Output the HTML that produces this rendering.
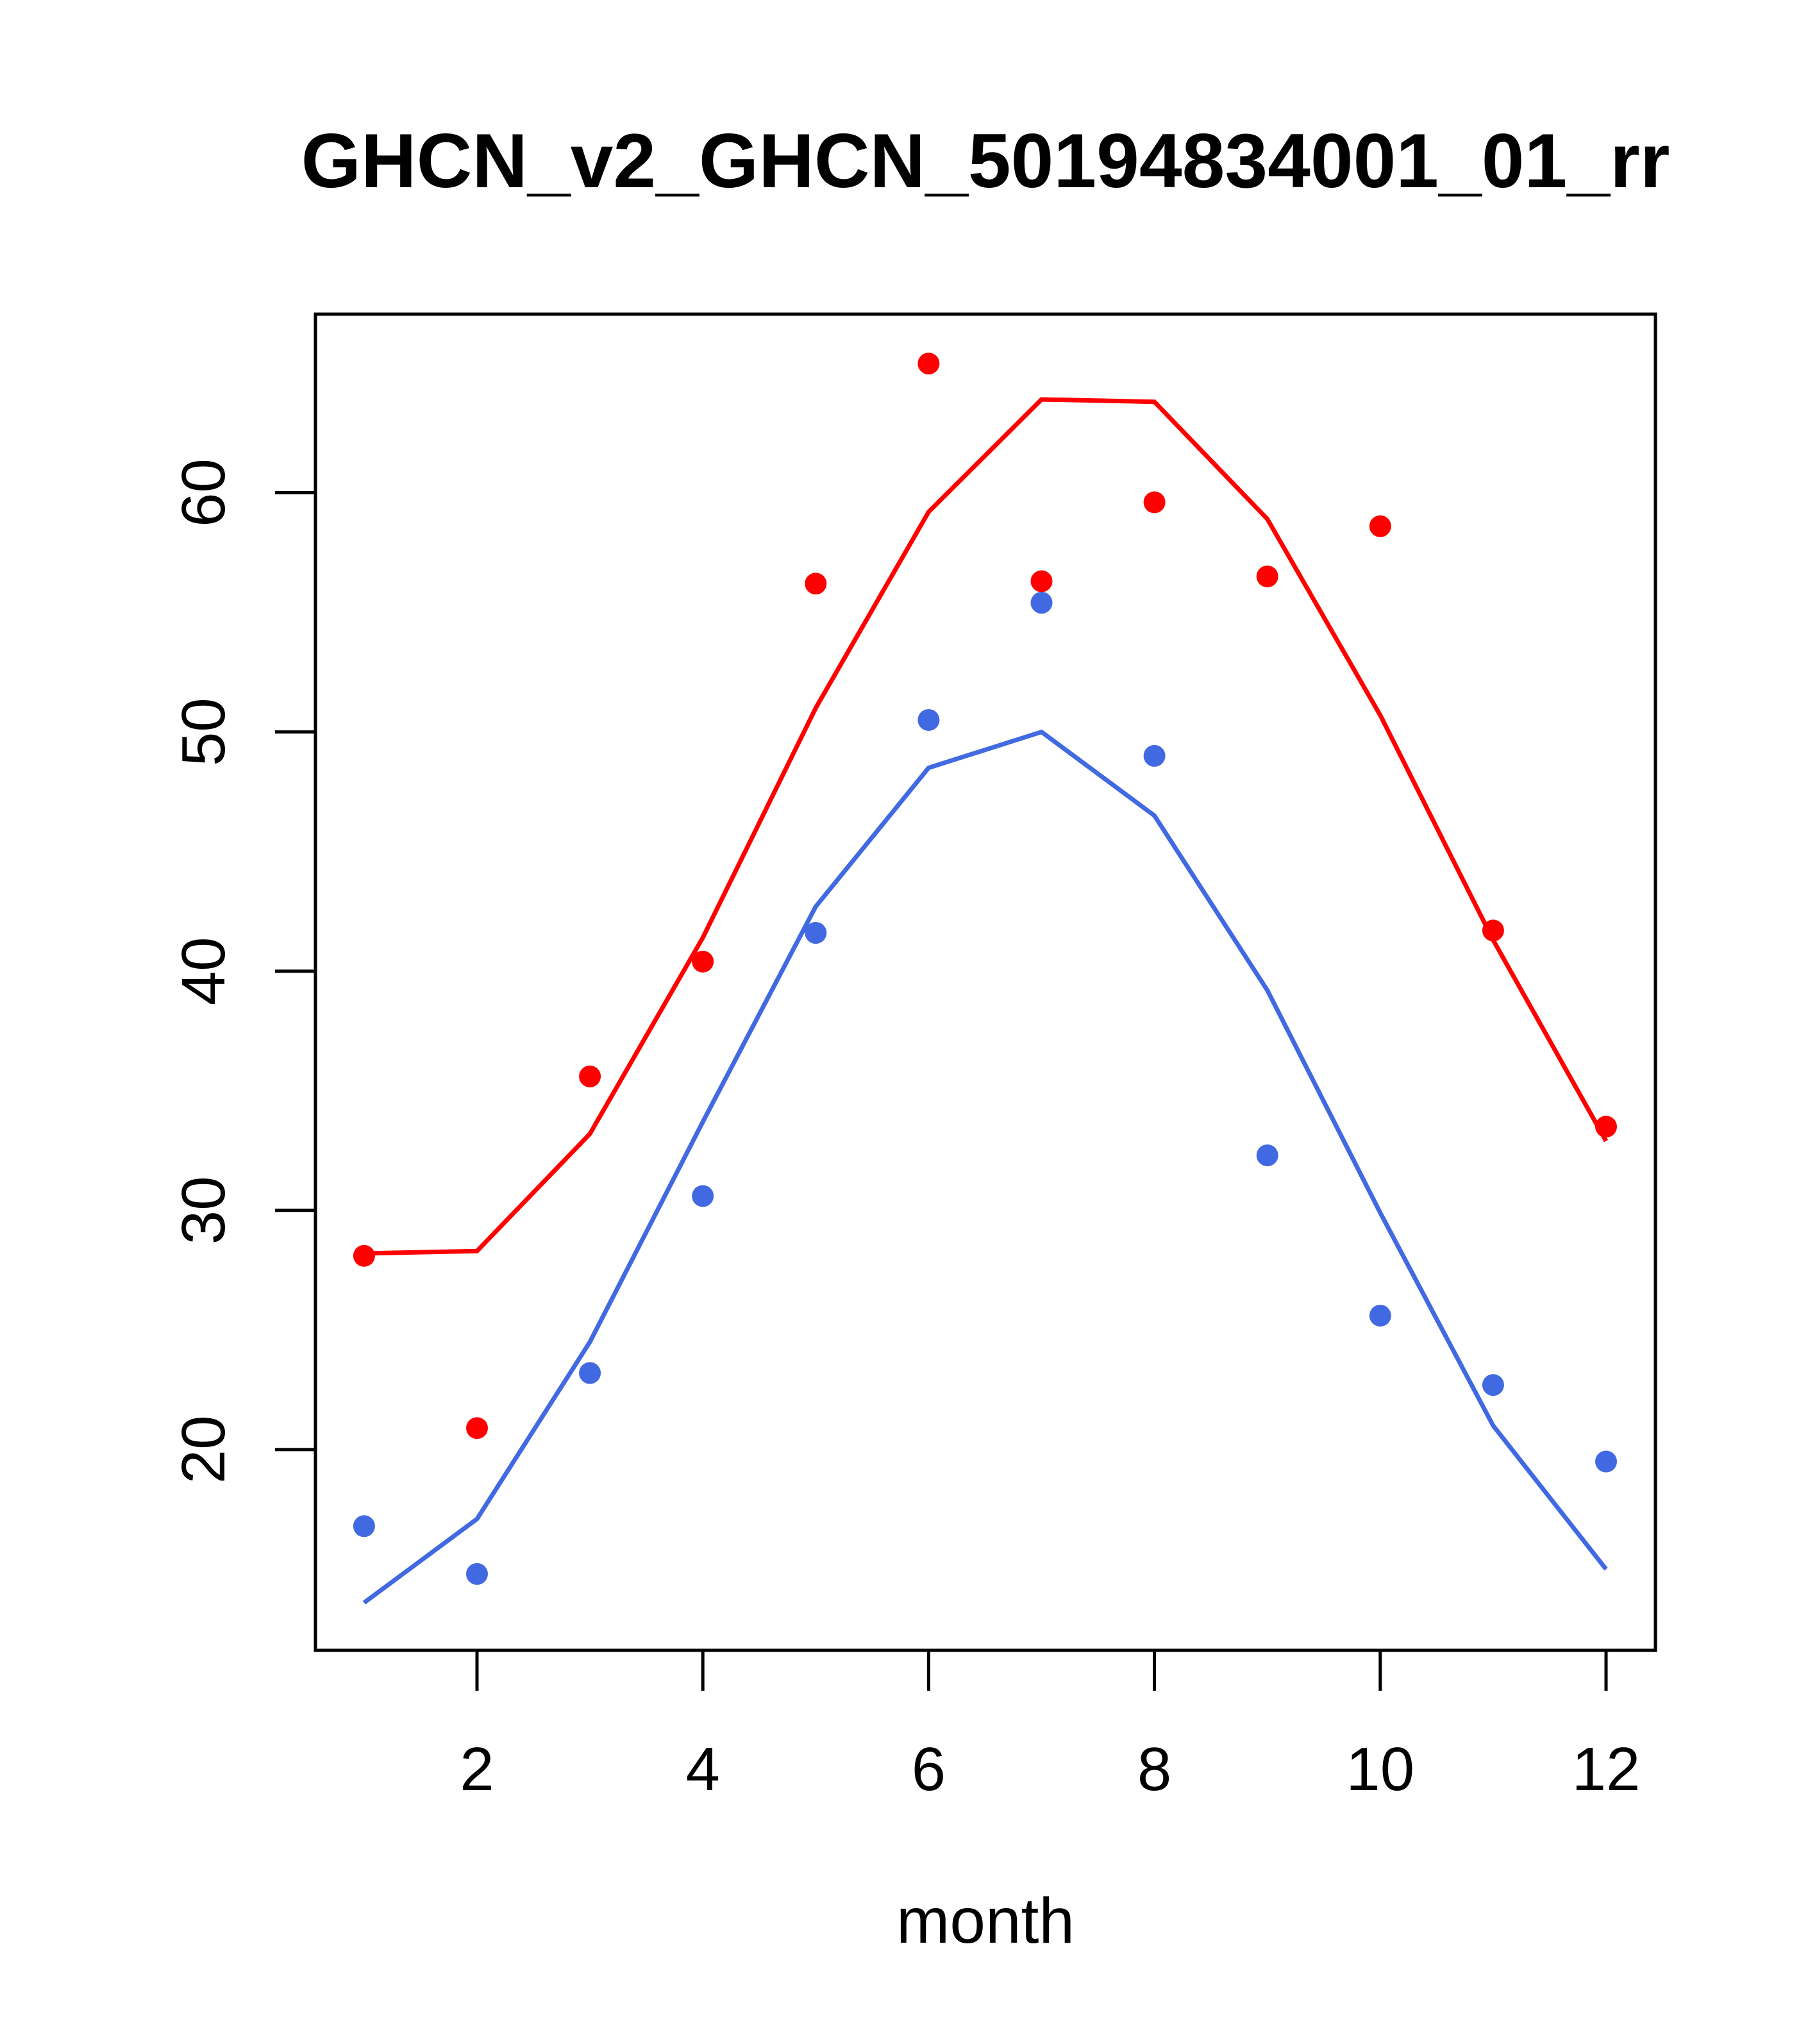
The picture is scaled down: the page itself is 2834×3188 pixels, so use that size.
<!DOCTYPE html>
<html><head><meta charset="utf-8"><style>
html,body{margin:0;padding:0;background:#fff;}
svg{display:block;}
text{font-family:"Liberation Sans",Arial,sans-serif;fill:#000;}
</style></head><body>
<svg id="chart" width="2834" height="3188" viewBox="0 0 2834 3188" xmlns="http://www.w3.org/2000/svg">
<text x="1537" y="292" font-size="120" font-weight="bold" text-anchor="middle">GHCN_v2_GHCN_50194834001_01_rr</text>
<rect x="492" y="490" width="2090" height="2084" fill="none" stroke="#000" stroke-width="5"/>
<g id="axes"></g>
<g id="series"></g>
<text x="1537" y="3030" font-size="100" text-anchor="middle">month</text>
</svg>
<script>
const months = [1,2,3,4,5,6,7,8,9,10,11,12];
const redPoints = [28.1,20.9,35.6,40.4,56.2,65.4,56.3,59.6,56.5,58.6,41.7,33.5];
const redLine = [28.2,28.3,33.2,41.4,51.0,59.2,63.9,63.8,58.9,50.7,41.3,32.9];
const bluePoints = [16.8,14.8,23.2,30.6,41.6,50.5,55.4,49.0,32.3,25.6,22.7,19.5];
const blueLine = [13.6,17.1,24.5,33.7,42.7,48.5,50.0,46.5,39.2,29.9,21.0,15.0];
const xTicks = [2,4,6,8,10,12];
const yTicks = [20,30,40,50,60];

const NS = "http://www.w3.org/2000/svg";
function xs(m){ return 744 + (m-2)*176.1; }
function ys(v){ return 768.5 + (60-v)*37.31; }
function mk(tag, attrs, parent){
  const e = document.createElementNS(NS, tag);
  for (const k in attrs) e.setAttribute(k, attrs[k]);
  parent.appendChild(e); return e;
}
const axes = document.getElementById('axes');
const series = document.getElementById('series');
xTicks.forEach(t=>{
  const l = mk('line',{x1:xs(t),x2:xs(t),y1:2574,y2:2637,stroke:'#000','stroke-width':5},axes);
  
  
  const tx = mk('text',{x:xs(t),y:2792,'font-size':96,'text-anchor':'middle'},axes);
  tx.textContent = t;
  
  
});
yTicks.forEach(t=>{
  const l = mk('line',{x1:429,x2:492,y1:ys(t),y2:ys(t),stroke:'#000','stroke-width':5},axes);
  
  
  const tx = mk('text',{x:0,y:0,'font-size':96,'text-anchor':'middle',transform:`translate(350,${ys(t)}) rotate(-90)`},axes);
  tx.textContent = t;
  
  
});
function drawLine(vals, color, name){
  const p = mk('polyline',{points:vals.map((v,i)=>xs(months[i])+','+ys(v)).join(' '),fill:'none',stroke:color,'stroke-width':7},series);
  
  
}
function drawPts(vals, color, name){
  vals.forEach((v,i)=>{
    const c = mk('circle',{cx:xs(months[i]),cy:ys(v),r:17,fill:color},series);
    
    
  });
}
drawLine(redLine,'#ff0000','red-line');
drawLine(blueLine,'#4169e1','blue-line');
drawPts(redPoints,'#ff0000','red-point');
drawPts(bluePoints,'#4169e1','blue-point');
</script>
</body></html>
